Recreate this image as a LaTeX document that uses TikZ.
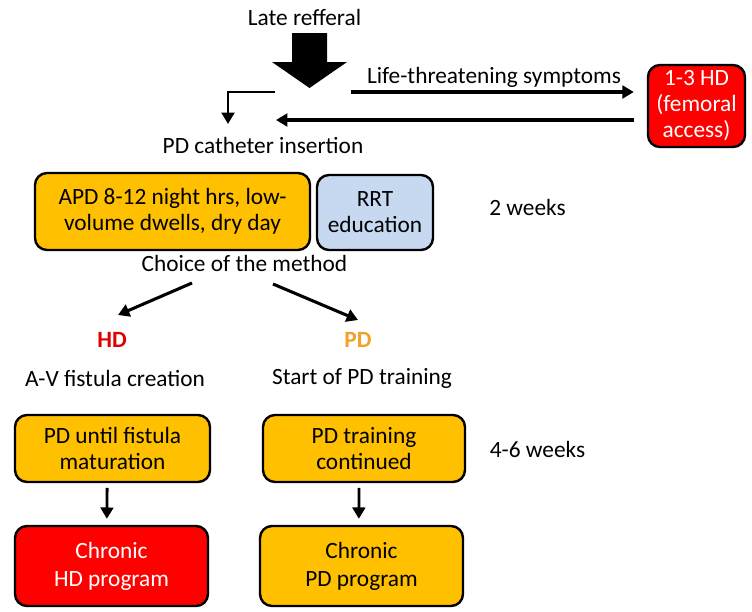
\documentclass[tikz,border=0pt]{standalone}
\usepackage{fontspec}
\setmainfont{Carlito}
\usepackage{xcolor}
\usepackage{tikz}
\usetikzlibrary{arrows.meta, positioning}
\definecolor{pdgold}{HTML}{FFC000}
\definecolor{hdred}{HTML}{FF0000}
\definecolor{edublue}{HTML}{C6D9F1}
\definecolor{pdlabel}{HTML}{F2A127}
\tikzset{
  stage/.style={rectangle, rounded corners=9pt, draw=black, line width=1.8pt, fill=pdgold, align=center, inner sep=2pt, font=\fontsize{17.5}{19.5}\selectfont},
  edu/.style={stage, fill=edublue},
  hdbox/.style={stage, fill=hdred, text=white},
  note/.style={align=center, inner sep=1pt, font=\fontsize{17.5}{20}\selectfont},
  arrow/.style={-{Triangle[length=8.5pt, width=9.5pt]}, line width=2.3pt}
}

\begin{document}
\begin{tikzpicture}[x=0.75pt, y=-0.75pt]
  \useasboundingbox (0,0) rectangle (752,611);
  % top: referral and acute branch
  \node[note] (late) at (304.5,17) {Late refferal};
  \fill[black] (292,33) -- (327,33) -- (327,62) -- (347,62) -- (309.5,88) -- (272,62) -- (292,62) -- cycle;
  \node[note] (threat) at (494,77) {Life-threatening symptoms};
  \node[hdbox, minimum width=72.75pt, minimum height=61.5pt] (femoral) at (696.5,106) {1-3 HD\\(femoral\\access)};
  \node[note] (catheter) at (263,145) {PD catheter insertion};
  \coordinate (fwd) at (351,92);
  \coordinate (back) at (276,120);
  \coordinate (bend) at (275,92);
  \coordinate (bendend) at (228,124);
  \draw[arrow] (fwd) -- ([xshift=-9.75pt]femoral.west |- fwd);
  \draw[arrow] ([xshift=-9.75pt]femoral.west |- back) -- (back);
  \draw[arrow, line width=2.1pt] (bend) -| (bendend);

  % first two weeks
  \node[stage, minimum width=206.25pt, minimum height=57.75pt] (apd) at (172.5,211.5) {APD 8-12 night hrs, low-\\volume dwells, dry day};
  \node[edu, minimum width=87pt, minimum height=56.25pt] (rrt) at (375,212.5) {RRT\\education};
  \node[note] (twoweeks) at (527.5,207) {2 weeks};
  \node[note] (choice) at (244.5,263) {Choice of the method};

  % choice of the method
  \node[note, text=hdred!88!black, font=\fontsize{17.5}{20}\selectfont\bfseries] (hd) at (112,340) {HD};
  \node[note, text=pdlabel, font=\fontsize{17.5}{20}\selectfont\bfseries] (pd) at (358,340) {PD};
  \coordinate (hdstart) at (192,283);
  \coordinate (hdend) at (118,315);
  \coordinate (pdstart) at (273,284);
  \coordinate (pdend) at (358,320);
  \draw[arrow] (hdstart) -- (hdend);
  \draw[arrow] (pdstart) -- (pdend);
  \node[note] (fistula) at (115,378) {A-V fistula creation};
  \node[note] (training) at (362,378) {Start of PD training};

  % 4-6 weeks and chronic programs
  \node[stage, minimum width=146.25pt, minimum height=50.25pt] (waitpd) at (112.5,448.5) {PD until fistula\\maturation};
  \node[stage, minimum width=151.5pt, minimum height=50.25pt] (contpd) at (364,448.5) {PD training\\continued};
  \node[note] (fourweeks) at (537.5,449) {4-6 weeks};
  \node[hdbox, minimum width=144.75pt, minimum height=60pt, font=\fontsize{17.5}{21}\selectfont] (chronichd) at (111.5,566) {Chronic\\HD program};
  \node[stage, minimum width=152.25pt, minimum height=60pt, font=\fontsize{17.5}{21}\selectfont] (chronicpd) at (361.5,566) {Chronic\\PD program};
  \draw[arrow, line width=2.1pt, shorten <=3.5pt, shorten >=4.5pt] ([xshift=-4pt]waitpd.south) -- ([xshift=-3.5pt]chronichd.north);
  \draw[arrow, line width=2.1pt, shorten <=3.5pt, shorten >=4.5pt] ([xshift=-3.75pt]contpd.south) -- ([xshift=-2pt]chronicpd.north);
\end{tikzpicture}
\end{document}
